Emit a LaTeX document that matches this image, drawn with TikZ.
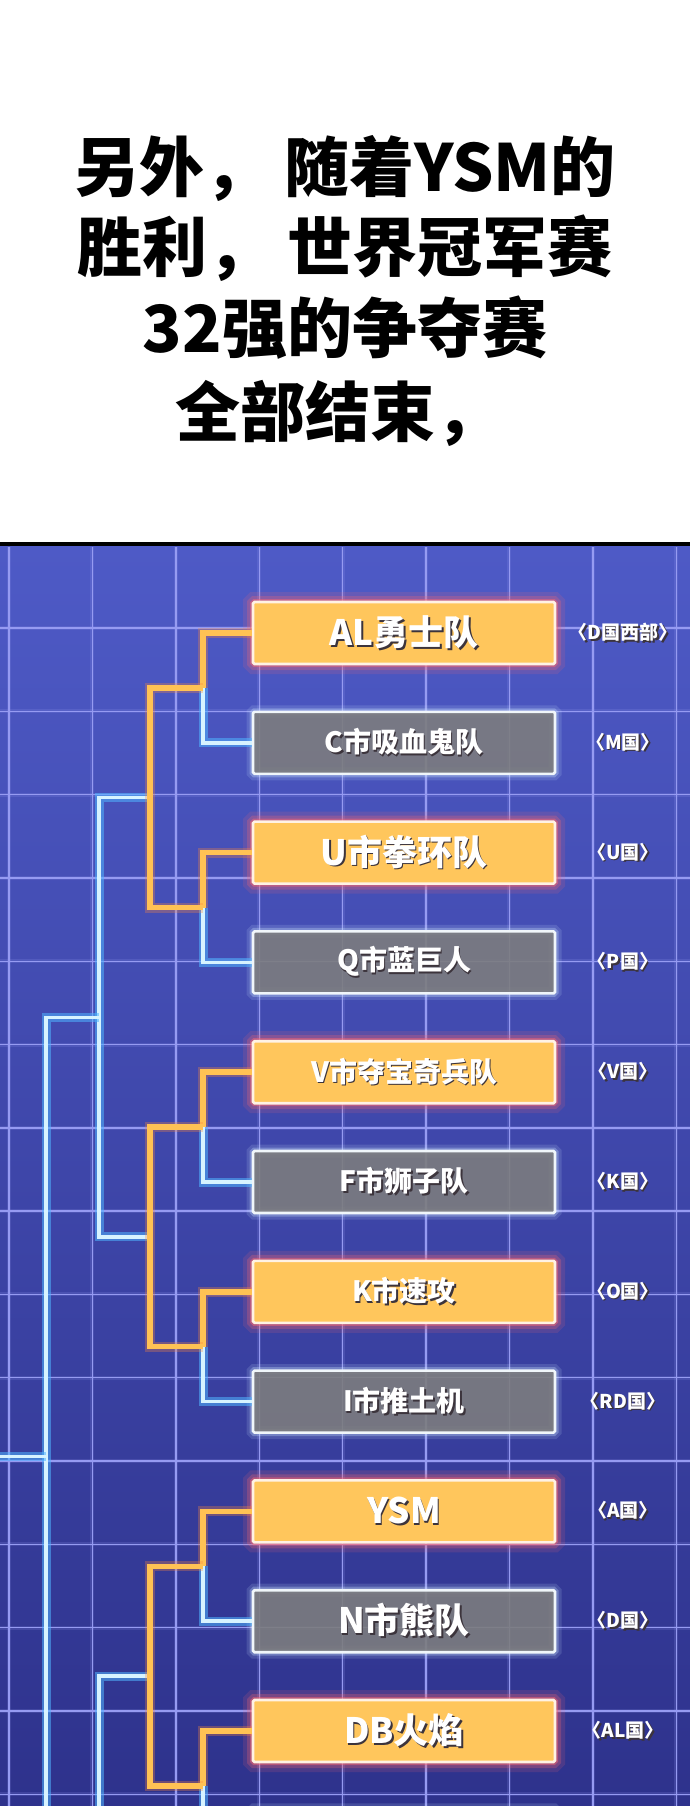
\documentclass[tikz,border=0pt]{standalone}
\usepackage{fontspec}
\setmainfont{Noto Sans CJK SC}

\definecolor{bgtop}{RGB}{78,90,198}
\definecolor{bgbot}{RGB}{46,50,140}
\definecolor{gridblue}{RGB}{150,155,242}
\definecolor{winfill}{RGB}{255,198,92}
\definecolor{winedge}{RGB}{255,242,228}
\definecolor{winglow}{RGB}{255,105,110}
\definecolor{losefill}{RGB}{124,124,126}
\definecolor{loseedge}{RGB}{240,246,250}
\definecolor{loseglow}{RGB}{205,232,255}
\definecolor{winpath}{RGB}{255,194,84}
\definecolor{openpath}{RGB}{215,243,255}
\definecolor{openglow}{RGB}{80,180,255}
\definecolor{txtshadow}{RGB}{60,52,60}

\newcommand\shadowed[1]{\rlap{\kern1.6pt\raisebox{-1.6pt}{\color{txtshadow}#1}}#1}

\tikzset{
 teambox/.style={rectangle, rounded corners=1.5pt, minimum width=302pt, minimum height=62pt,
   line width=2.6pt, text=white, font=\bfseries},
 winbox/.style={teambox, draw=winedge, fill=winfill,
   preaction={draw=winglow, line width=20pt, opacity=0.14},
   preaction={draw=winglow, line width=12pt, opacity=0.25},
   preaction={draw=winglow, line width=6pt, opacity=0.45}},
 losebox/.style={teambox, draw=loseedge, fill=losefill, fill opacity=0.9, text opacity=1,
   preaction={draw=loseglow, line width=13pt, opacity=0.15},
   preaction={draw=loseglow, line width=7pt, opacity=0.3}},
 bigname/.style={font=\bfseries\fontsize{35}{35}\selectfont},
 smallname/.style={font=\bfseries\fontsize{28}{28}\selectfont},
 country/.style={text=white, font=\bfseries\fontsize{19}{19}\selectfont},
 headline/.style={font=\bfseries\fontsize{65}{65}\selectfont},
 winline/.style={draw=winpath, line width=5.5pt, line join=miter,
   preaction={draw=winpath!70!red, line width=10pt, opacity=0.3}},
 openline/.style={draw=openpath, line width=3.5pt, line join=miter,
   preaction={draw=openglow, line width=9pt, opacity=0.55}},
 gridrule/.style={draw=gridblue, line width=1.4pt,
   preaction={draw=gridblue, line width=4pt, opacity=0.18}}
}

\begin{document}
\begin{tikzpicture}[x=1pt, y=-1pt]
\useasboundingbox (0,0) rectangle (690,1806);
\fill[white] (0,0) rectangle (690,1806);

% heading
\node[headline] (head1) at (345,168) {另外，\ 随着YSM的};
\node[headline] (head2) at (345,248) {胜利，\ 世界冠军赛};
\node[headline] (head3) at (345,328) {32强的争夺赛};
\node[headline] (head4) at (338,413) {全部结束，};

% board
\shade[top color=bgtop, bottom color=bgbot] (0,546) rectangle (690,1806);
\foreach \gx in {9,92.4,...,680} \draw[gridrule] (\gx,547) -- (\gx,1806);
\foreach \gy in {628,711.3,...,1806} \draw[gridrule] (0,\gy) -- (690,\gy);
\draw[line width=4pt] (0,544) -- (690,544);

% teams
\node[winbox, bigname] (al) at (404,633) {\shadowed{AL勇士队}};
\node[losebox, smallname] (cvamp) at (404,742.8) {\shadowed{C市吸血鬼队}};
\node[winbox, bigname] (ufist) at (404,852.6) {\shadowed{U市拳环队}};
\node[losebox, smallname] (qgiant) at (404,962.4) {\shadowed{Q市蓝巨人}};
\node[winbox, smallname] (vtreasure) at (404,1072.2) {\shadowed{V市夺宝奇兵队}};
\node[losebox, smallname] (flion) at (404,1182) {\shadowed{F市狮子队}};
\node[winbox, smallname] (krapid) at (404,1291.8) {\shadowed{K市速攻}};
\node[losebox, smallname] (ibull) at (404,1401.6) {\shadowed{I市推土机}};
\node[winbox, bigname] (ysm) at (404,1511.4) {\shadowed{YSM}};
\node[losebox, bigname] (nbear) at (404,1621.2) {\shadowed{N市熊队}};
\node[winbox, bigname] (dbfire) at (404,1731) {\shadowed{DB火焰}};
\node[losebox] (last) at (404,1840.8) {};

% countries
\node[country] (alc) at (623,633) {\shadowed{〈D国西部〉}};
\node[country] (cvampc) at (623,742.8) {\shadowed{〈M国〉}};
\node[country] (ufistc) at (623,852.6) {\shadowed{〈U国〉}};
\node[country] (qgiantc) at (623,962.4) {\shadowed{〈P国〉}};
\node[country] (vtreasurec) at (623,1072.2) {\shadowed{〈V国〉}};
\node[country] (flionc) at (623,1182) {\shadowed{〈K国〉}};
\node[country] (krapidc) at (623,1291.8) {\shadowed{〈O国〉}};
\node[country] (ibullc) at (623,1401.6) {\shadowed{〈RD国〉}};
\node[country] (ysmc) at (623,1511.4) {\shadowed{〈A国〉}};
\node[country] (nbearc) at (623,1621.2) {\shadowed{〈D国〉}};
\node[country] (dbfirec) at (623,1731) {\shadowed{〈AL国〉}};

% bracket joints
\coordinate (j11) at (203,687.9);
\coordinate (j12) at (203,907.5);
\coordinate (j13) at (203,1127.1);
\coordinate (j14) at (203,1346.7);
\coordinate (j15) at (203,1566.3);
\coordinate (j16) at (203,1785.9);
\coordinate (j21) at (150,797.7);
\coordinate (j22) at (150,1236.9);
\coordinate (j23) at (150,1676.1);
\coordinate (j31) at (99,1017.3);
\coordinate (j32) at (99,1895.7);
\coordinate (j4) at (46,1456.5);
\coordinate (exit) at (-8,1456.5);

% open paths
\draw[openline] (cvamp.west) -| (j11);
\draw[openline] (qgiant.west) -| (j12);
\draw[openline] (flion.west) -| (j13);
\draw[openline] (ibull.west) -| (j14);
\draw[openline] (nbear.west) -| (j15);
\draw[openline] (last.west) -| (j16);
\draw[openline] (j21) -| (j31);
\draw[openline] (j22) -| (j31);
\draw[openline] (j23) -| (j32);
\draw[openline] (j31) -| (j4);
\draw[openline] (j32) -| (j4);
\draw[openline] (j4) -- (exit);

% winners' paths
\draw[winline] (al.west) -| (j11);
\draw[winline] (ufist.west) -| (j12);
\draw[winline] (vtreasure.west) -| (j13);
\draw[winline] (krapid.west) -| (j14);
\draw[winline] (ysm.west) -| (j15);
\draw[winline] (dbfire.west) -| (j16);
\draw[winline] (j11) -| (j21);
\draw[winline] (j12) -| (j21);
\draw[winline] (j13) -| (j22);
\draw[winline] (j14) -| (j22);
\draw[winline] (j15) -| (j23);
\draw[winline] (j16) -| (j23);

\end{tikzpicture}
\end{document}
